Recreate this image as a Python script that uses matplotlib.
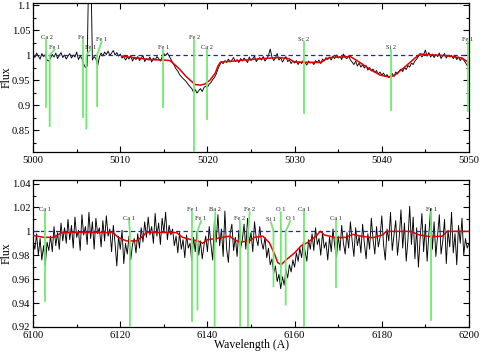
import numpy as np
import matplotlib
matplotlib.use("Agg")
import matplotlib.pyplot as plt
from matplotlib.ticker import MultipleLocator

plt.rcParams['font.family'] = ['Liberation Serif', 'DejaVu Serif']

# ---- top panel: observed flux (x1000), 5000-5050 A, 0.2 A step ----
top_wave = np.linspace(5000, 5050, 251)
top_obs = np.array([
    1002, 995, 1004, 998, 992, 1003, 997, 1001, 990, 988,
    994, 1001, 996, 1004, 993, 999, 1005, 995, 1000, 992,
    998, 1003, 994, 1000, 996, 1006, 991, 998, 993, 982,
    975, 978, 1200, 1200, 990, 997, 993, 978, 996, 1004,
    998, 1006, 1001, 1008, 999, 1004, 1009, 1000, 1005, 998,
    1002, 994, 997, 990, 996, 992, 999, 988, 995, 991,
    997, 989, 994, 999, 987, 993, 990, 996, 986, 994,
    990, 997, 993, 988, 996, 1003, 999, 1004, 998, 992,
    985, 979, 972, 968, 961, 957, 953, 950, 946, 941,
    937, 933, 926, 931, 924, 929, 933, 927, 935, 938,
    936, 942, 945, 951, 955, 962, 972, 980, 986, 983,
    989, 985, 992, 986, 990, 995, 987, 991, 985, 993,
    988, 994, 990, 985, 996, 989, 993, 998, 987, 992,
    995, 990, 997, 988, 993, 999, 1012, 996, 989, 994,
    1003, 990, 995, 986, 992, 997, 987, 990, 983, 988,
    984, 989, 981, 987, 983, 990, 985, 980, 988, 984,
    986, 981, 989, 985, 990, 983, 992, 988, 995, 991,
    996, 990, 998, 993, 1000, 994, 997, 991, 1002, 995,
    993, 998, 990, 986, 981, 988, 978, 984, 976, 981,
    974, 979, 970, 975, 968, 972, 965, 969, 962, 966,
    960, 964, 957, 961, 955, 959, 963, 957, 966, 962,
    968, 972, 967, 975, 971, 979, 976, 984, 981, 988,
    992, 997, 1003, 996, 1001, 1010, 998, 1005, 996, 1002,
    995, 1001, 997, 1004, 993, 999, 1003, 994, 1000, 996,
    999, 993, 998, 991, 996, 989, 994, 990, 985, 979,
    983]) / 1000.0

top_model_wave = [5010.2, 5011, 5012, 5013.4, 5015, 5015.7, 5016.3, 5016.9, 5017.5,
                  5018, 5018.6, 5019.2, 5019.7, 5020.3, 5020.9, 5021.2, 5021.5, 5023,
                  5025, 5027.2, 5028.3, 5029.3, 5030, 5033, 5033.6, 5034, 5036.4,
                  5037.5, 5038.6, 5039.8, 5040.9, 5041.5, 5042.7, 5043.8, 5044.4,
                  5047.8, 5049.2, 5049.9, 5050]
top_model = [0.998, 0.996, 0.994, 0.991, 0.99, 0.989, 0.98, 0.97, 0.958,
             0.95, 0.941, 0.94, 0.942, 0.95, 0.964, 0.978, 0.986, 0.988,
             0.991, 0.994, 0.995, 0.993, 0.986, 0.985, 0.992, 0.995, 0.997,
             0.985, 0.972, 0.96, 0.956, 0.96, 0.977, 0.994, 1.002,
             0.998, 0.994, 0.986, 0.984]

top_ids = ['Ca 2', 'Fe 1', 'Fe 1', 'Fe 1', 'Fe 1', 'Fe 1', 'Fe 2', 'Ca 2', 'Sc 2', 'Si 2', 'Fe 1']
top_line_wave = [5001.53, 5001.9, 5005.73, 5006.11, 5007.34, 5014.94, 5018.5, 5019.99, 5031.04, 5041.06, 5049.85]
top_line_depth = [0.897, 0.858, 0.877, 0.853, 0.898, 0.897, 0.80, 0.872, 0.885, 0.89, 0.889]
top_label_wave = [5001.53, 5002.45, 5005.73, 5006.6, 5007.85, 5014.94, 5018.5, 5019.99, 5031.04, 5041.06, 5049.85]
top_label_y = [1.031, 1.011, 1.031, 1.011, 1.027, 1.011, 1.031, 1.011, 1.027, 1.011, 1.027]

# ---- bottom panel: observed flux (x1000), 6100-6200 A, 0.4 A step ----
bot_wave = np.linspace(6100, 6200, 251)
bot_obs = np.array([
    992, 985, 998, 980, 994, 976, 988, 972, 991, 984,
    996, 983, 1004, 988, 999, 985, 1007, 992, 1003, 990,
    1010, 993, 1005, 986, 1012, 995, 1001, 984, 1014, 997,
    1004, 989, 1016, 994, 1008, 985, 1011, 998, 1003, 987,
    1009, 992, 1013, 996, 1002, 983, 1005, 990, 971, 996,
    985, 1001, 973, 990, 981, 996, 976, 989, 994, 982,
    998, 986, 1003, 991, 1008, 995, 1012, 997, 1004, 990,
    1015, 996, 1007, 989, 1011, 999, 1016, 993, 1005, 997,
    1002, 988, 996, 982, 999, 985, 993, 978, 997, 986,
    990, 975, 995, 983, 1000, 980, 992, 977, 988, 996,
    983, 1004, 989, 976, 1009, 991, 1014, 988, 1002, 979,
    1017, 985, 974, 998, 1006, 984, 995, 979, 1001, 986,
    993, 1006, 985, 1011, 990, 999, 983, 1008, 994, 988,
    1004, 991, 985, 995, 978, 986, 972, 977, 965, 971,
    958, 964, 952, 962, 955, 968, 961, 972, 966, 976,
    970, 982, 975, 986, 978, 991, 983, 975, 993, 985,
    998, 984, 1003, 989, 994, 980, 999, 986, 991, 976,
    995, 983, 1002, 988, 978, 996, 984, 1005, 990, 981,
    999, 986, 1008, 992, 979, 1003, 988, 996, 982, 1006,
    990, 977, 998, 985, 1011, 993, 981, 1004, 987, 995,
    1013, 989, 976, 1002, 992, 1016, 984, 997, 1009, 980,
    995, 1018, 986, 1007, 975, 993, 1021, 989, 1012, 977,
    1003, 970, 994, 1015, 983, 1006, 975, 998, 1019, 985,
    1008, 979, 996, 1014, 981, 992, 1010, 973, 1001, 987,
    1016, 982, 998, 972, 1005, 990, 1011, 980, 994, 986,
    990]) / 1000.0

bot_model_wave = [6100, 6102.4, 6104.7, 6106.6, 6118.3, 6119.5, 6121.4, 6123.7, 6125.2, 6126,
                  6132.9, 6134.3, 6136.3, 6137.8, 6138.9, 6140, 6142, 6145.1, 6146.2, 6147.4,
                  6149.7, 6150.8, 6152.7, 6154.2, 6155.4, 6156.1, 6156.9, 6158, 6160, 6161.5,
                  6162.9, 6164.9, 6165.9, 6166.8, 6169.5, 6171.8, 6173.3, 6175.2, 6177.9,
                  6180.2, 6181, 6186.6, 6188.6, 6191.2, 6193.9, 6195, 6200]
bot_model = [0.9966, 0.995, 0.995, 0.999, 0.999, 0.995, 0.992, 0.992, 0.996, 0.999,
             0.999, 0.995, 0.993, 0.992, 0.990, 0.993, 0.994, 0.996, 0.993, 0.991,
             0.992, 0.995, 0.996, 0.9905, 0.981, 0.974, 0.972, 0.976, 0.982, 0.988,
             0.9905, 0.996, 1.0, 0.997, 0.9947, 0.995, 0.9975, 0.996, 0.9947,
             0.997, 1.0, 1.0, 0.997, 0.9955, 0.996, 1.0, 1.0]

bot_ids = ['Ca 1', 'Ca 1', 'Fe 1', 'Fe 1', 'Ba 2', 'Fe 2', 'Fe 2', 'Si 1', 'O 1', 'O 1', 'Ca 1', 'Ca 1', 'Fe 1']
bot_line_wave = [6102.75, 6122.2, 6136.5, 6137.7, 6141.65, 6147.5, 6149.3, 6155.15, 6156.85, 6157.95, 6162.1, 6169.5, 6191.4]
bot_line_depth = [0.9414, 0.90, 0.9246, 0.9345, 0.90, 0.90, 0.90, 0.954, 0.958, 0.9387, 0.90, 0.953, 0.9255]
bot_label_wave = [6102.75, 6122.0, 6136.5, 6138.5, 6141.8, 6147.4, 6149.7, 6154.6, 6156.8, 6159.0, 6162.1, 6169.5, 6191.4]
bot_label_y = [1.0165, 1.0087, 1.016, 1.0087, 1.016, 1.0087, 1.016, 1.0075, 1.016, 1.0087, 1.016, 1.0087, 1.016]

GREEN = '#6fea6f'


def draw_ids(ax, waves, depths, lwaves, ly, names):
    for w, d, lw, y, n in zip(waves, depths, lwaves, ly, names):
        if abs(lw - w) > 0.05:
            ax.plot([w, w, lw], [d, 1.0, y], color=GREEN, lw=1.3, zorder=4)
        else:
            ax.plot([w, w], [d, y], color=GREEN, lw=1.3, zorder=4)
        ax.text(lw, y, n, ha='center', va='bottom', fontsize=4.6, color='#222222', zorder=1)


fig = plt.figure(figsize=(4.8, 3.53), dpi=100)
ax1 = fig.add_axes([0.069, 0.569, 0.908, 0.4225])
ax2 = fig.add_axes([0.069, 0.074, 0.908, 0.416])

# top
ax1.plot(top_wave, top_obs, color='black', lw=0.65, zorder=2)
ax1.axhline(1.0, color='#1a1aff', lw=0.9, ls=(0, (3.5, 2.5)), zorder=3)
ax1.plot(top_model_wave, top_model, color='#e00000', lw=1.1, zorder=3)
draw_ids(ax1, top_line_wave, top_line_depth, top_label_wave, top_label_y, top_ids)
ax1.set_xlim(5000, 5050)
ax1.set_ylim(0.806, 1.104)
ax1.xaxis.set_major_locator(MultipleLocator(10))
ax1.xaxis.set_minor_locator(MultipleLocator(5))
ax1.set_yticks([0.85, 0.9, 0.95, 1.0, 1.05, 1.1])
ax1.set_yticklabels(['0.85', '0.9', '0.95', '1', '1.05', '1.1'])
ax1.yaxis.set_minor_locator(MultipleLocator(0.025))
ax1.set_ylabel('Flux', fontsize=8.5)

# bottom
ax2.plot(bot_wave, bot_obs, color='black', lw=0.65, zorder=2)
ax2.axhline(1.0, color='#1a1aff', lw=0.9, ls=(0, (3.5, 2.5)), zorder=3)
ax2.plot(bot_model_wave, bot_model, color='#e00000', lw=1.1, zorder=3)
draw_ids(ax2, bot_line_wave, bot_line_depth, bot_label_wave, bot_label_y, bot_ids)
ax2.set_xlim(6100, 6200)
ax2.set_ylim(0.92, 1.043)
ax2.xaxis.set_major_locator(MultipleLocator(20))
ax2.xaxis.set_minor_locator(MultipleLocator(10))
ax2.set_yticks([0.92, 0.94, 0.96, 0.98, 1.0, 1.02, 1.04])
ax2.set_yticklabels(['0.92', '0.94', '0.96', '0.98', '1', '1.02', '1.04'])
ax2.yaxis.set_minor_locator(MultipleLocator(0.01))
ax2.set_ylabel('Flux', fontsize=8.5)
ax2.set_xlabel('Wavelength (A)', fontsize=8.5)

for ax in (ax1, ax2):
    ax.tick_params(which='both', direction='in', top=True, right=True, labelsize=7.6)
    ax.tick_params(axis='y', pad=2)
    ax.tick_params(axis='x', pad=3)
    ax.tick_params(which='major', length=4, width=0.8)
    ax.tick_params(which='minor', length=2, width=0.8)
    ax.yaxis.set_label_coords(-0.047, 0.5)
    for s in ax.spines.values():
        s.set_linewidth(0.9)
ax2.xaxis.set_label_coords(0.5, -0.085)

fig.savefig('out.png', dpi=100)
